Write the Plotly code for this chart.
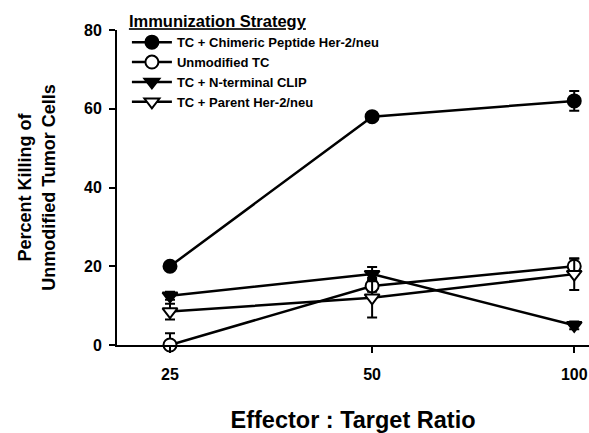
import plotly.graph_objects as go

ratios = [25, 50, 100]
tick_labels = ["25", "50", "100"]

series_names = [
    "TC + Chimeric Peptide Her-2/neu",
    "Unmodified TC",
    "TC + N-terminal CLIP",
    "TC + Parent Her-2/neu",
]
chimeric = [20, 58, 62]
chimeric_err = [0.8, 1.0, 2.5]
unmodified = [0, 15, 20]
unmodified_err_plus = [3, 1.5, 2]
unmodified_err_minus = [0, 1.5, 2]
nterm = [12.5, 18, 5]
nterm_err = [1, 1.8, 1]
parent = [8.5, 12, 18]
parent_err = [2, 5, 4]

FONT = "Liberation Sans, Arial, sans-serif"

fig = go.Figure()

def add(name, y, ep, em, symbol, fill):
    fig.add_trace(go.Scatter(
        x=ratios, y=y, name=name, mode="lines+markers",
        line=dict(color="black", width=2.5),
        marker=dict(symbol=symbol, size=13, color=fill,
                    line=dict(color="black", width=2)),
        error_y=dict(type="data", array=ep, arrayminus=em, symmetric=False,
                     color="black", thickness=2, width=5),
        cliponaxis=False,
    ))

add(series_names[0], chimeric, chimeric_err, chimeric_err, "circle", "black")
add(series_names[1], unmodified, unmodified_err_plus, unmodified_err_minus, "circle", "white")
add(series_names[2], nterm, nterm_err, nterm_err, "triangle-down", "black")
add(series_names[3], parent, parent_err, parent_err, "triangle-down", "white")

fig.update_layout(
    width=589, height=433,
    margin=dict(l=117, r=0, t=30, b=88, autoexpand=False),
    paper_bgcolor="white", plot_bgcolor="white",
    font=dict(family=FONT, color="black", weight="bold"),
    showlegend=True,
    legend=dict(
        x=0.021, y=1.077, xanchor="left", yanchor="top",
        bgcolor="rgba(0,0,0,0)",
        title=dict(text="<span style='text-decoration:underline'>Immunization Strategy</span>",
                   side="top", font=dict(size=16.5, family=FONT, weight="bold")),
        font=dict(size=13, family=FONT, weight="bold"),
        tracegroupgap=0, itemwidth=40,
    ),
    xaxis=dict(
        type="log", range=[1.319, 2.022],
        tickvals=ratios, ticktext=tick_labels,
        showline=True, linecolor="black", linewidth=2,
        ticks="outside", ticklen=6, tickwidth=2, tickcolor="black",
        showgrid=False, zeroline=False, automargin=False,
        ticklabeloverflow="allow", ticklabelstandoff=8,
        tickfont=dict(size=16, family=FONT, weight="bold"),
        title=dict(text="Effector : Target Ratio", font=dict(size=23.5, family=FONT, weight="bold"),
                   standoff=30),
    ),
    yaxis=dict(
        range=[0, 80], tickvals=[0, 20, 40, 60, 80],
        showline=True, linecolor="black", linewidth=2,
        ticks="outside", ticklen=6, tickwidth=2, tickcolor="black",
        showgrid=False, zeroline=False, automargin=False,
        ticklabelstandoff=4,
        tickfont=dict(size=16, family=FONT, weight="bold"),
        title=dict(text="Percent Killing of<br>Unmodified Tumor Cells",
                   font=dict(size=18, family=FONT, weight="bold"), standoff=24),
    ),
)

fig.write_html(
    "out.html",
    config={"displayModeBar": False},
    post_script="document.body.style.margin='0';document.body.style.overflow='hidden';",
)
